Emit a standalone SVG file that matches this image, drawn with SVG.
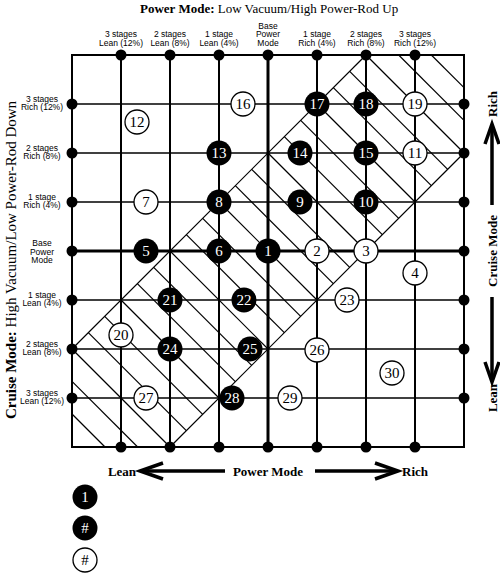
<svg xmlns="http://www.w3.org/2000/svg" width="500" height="573" viewBox="0 0 500 573">
<style>
.gv{stroke:#000;stroke-width:2;fill:none}
.gh{stroke:#000;stroke-width:1.5;fill:none}
.base{stroke:#000;stroke-width:3;fill:none}
.ht{stroke:#000;stroke-width:1.2;fill:none}
.dot{fill:#000}
.nb circle{fill:#000}
.nb text{fill:#fff}
.nw circle{fill:#fff;stroke:#000;stroke-width:1.3}
.nw text{fill:#000}
.num{font-family:"Liberation Serif","Times New Roman",serif;font-size:15px;text-anchor:middle}
.lbl{font-family:"Liberation Sans Narrow","Liberation Sans",Arial,sans-serif;font-size:8.5px;text-anchor:middle;fill:#000}
.big{font-family:"Liberation Serif","Times New Roman",serif;font-size:13px;font-weight:bold;fill:#000}
.arr{stroke:#000;stroke-width:3.5;fill:none;stroke-linejoin:miter}
</style>
<rect x="0" y="0" width="500" height="573" fill="#fff"/>

<text x="140" y="13" font-family="Liberation Serif, Times New Roman, serif" font-size="13"><tspan font-weight="bold">Power Mode:</tspan> Low Vacuum/High Power-Rod Up</text>

<g id="hatch">
<line class="ht" x1="366" y1="55" x2="72" y2="349"/>
<line class="ht" x1="464" y1="153" x2="170" y2="447"/>
<line class="ht" x1="431.33" y1="55" x2="464" y2="87.67"/>
<line class="ht" x1="398.67" y1="55" x2="464" y2="120.33"/>
<line class="ht" x1="366" y1="55" x2="464" y2="153"/>
<line class="ht" x1="349.67" y1="71.33" x2="447.67" y2="169.33"/>
<line class="ht" x1="333.33" y1="87.67" x2="431.33" y2="185.67"/>
<line class="ht" x1="317" y1="104" x2="415" y2="202"/>
<line class="ht" x1="300.67" y1="120.33" x2="398.67" y2="218.33"/>
<line class="ht" x1="284.33" y1="136.67" x2="382.33" y2="234.67"/>
<line class="ht" x1="268" y1="153" x2="366" y2="251"/>
<line class="ht" x1="251.67" y1="169.33" x2="349.67" y2="267.33"/>
<line class="ht" x1="235.33" y1="185.67" x2="333.33" y2="283.67"/>
<line class="ht" x1="219" y1="202" x2="317" y2="300"/>
<line class="ht" x1="202.67" y1="218.33" x2="300.67" y2="316.33"/>
<line class="ht" x1="186.33" y1="234.67" x2="284.33" y2="332.67"/>
<line class="ht" x1="170" y1="251" x2="268" y2="349"/>
<line class="ht" x1="153.67" y1="267.33" x2="251.67" y2="365.33"/>
<line class="ht" x1="137.33" y1="283.67" x2="235.33" y2="381.67"/>
<line class="ht" x1="121" y1="300" x2="219" y2="398"/>
<line class="ht" x1="104.67" y1="316.33" x2="202.67" y2="414.33"/>
<line class="ht" x1="88.33" y1="332.67" x2="186.33" y2="430.67"/>
<line class="ht" x1="72" y1="349" x2="170" y2="447"/>
<line class="ht" x1="72" y1="381.33" x2="137.67" y2="447"/>
<line class="ht" x1="72" y1="414" x2="105" y2="447"/>
</g>

<g id="grid">
<rect class="gv" x="72" y="55" width="392" height="392"/>
<line class="gv" x1="121" y1="55" x2="121" y2="447"/>
<line class="gv" x1="170" y1="55" x2="170" y2="447"/>
<line class="gv" x1="219" y1="55" x2="219" y2="447"/>
<line class="base" x1="268" y1="55" x2="268" y2="447"/>
<line class="gv" x1="317" y1="55" x2="317" y2="447"/>
<line class="gv" x1="366" y1="55" x2="366" y2="447"/>
<line class="gv" x1="415" y1="55" x2="415" y2="447"/>
<line class="gh" x1="72" y1="104" x2="464" y2="104"/>
<line class="gh" x1="72" y1="153" x2="464" y2="153"/>
<line class="gh" x1="72" y1="202" x2="464" y2="202"/>
<line class="base" x1="72" y1="251" x2="464" y2="251"/>
<line class="gh" x1="72" y1="300" x2="464" y2="300"/>
<line class="gh" x1="72" y1="349" x2="464" y2="349"/>
<line class="gh" x1="72" y1="398" x2="464" y2="398"/>
</g>

<g id="edge-dots" class="dot">
<circle cx="121" cy="55" r="5.5"/><circle cx="170" cy="55" r="5.5"/><circle cx="219" cy="55" r="5.5"/><circle cx="268" cy="55" r="5.5"/><circle cx="317" cy="55" r="5.5"/><circle cx="366" cy="55" r="5.5"/><circle cx="415" cy="55" r="5.5"/>
<circle cx="121" cy="447" r="5.5"/><circle cx="170" cy="447" r="5.5"/><circle cx="219" cy="447" r="5.5"/><circle cx="268" cy="447" r="5.5"/><circle cx="317" cy="447" r="5.5"/><circle cx="366" cy="447" r="5.5"/><circle cx="415" cy="447" r="5.5"/>
<circle cx="72" cy="104" r="5.5"/><circle cx="72" cy="153" r="5.5"/><circle cx="72" cy="202" r="5.5"/><circle cx="72" cy="251" r="5.5"/><circle cx="72" cy="300" r="5.5"/><circle cx="72" cy="349" r="5.5"/><circle cx="72" cy="398" r="5.5"/>
<circle cx="464" cy="104" r="5.5"/><circle cx="464" cy="153" r="5.5"/><circle cx="464" cy="202" r="5.5"/><circle cx="464" cy="251" r="5.5"/><circle cx="464" cy="300" r="5.5"/><circle cx="464" cy="349" r="5.5"/><circle cx="464" cy="398" r="5.5"/>
</g>

<g id="column-labels" class="lbl">
<text x="121" y="37">3 stages</text><text x="121" y="45.5">Lean (12%)</text>
<text x="170" y="37">2 stages</text><text x="170" y="45.5">Lean (8%)</text>
<text x="219" y="37">1 stage</text><text x="219" y="45.5">Lean (4%)</text>
<text x="268" y="28.5">Base</text><text x="268" y="37">Power</text><text x="268" y="45.5">Mode</text>
<text x="317" y="37">1 stage</text><text x="317" y="45.5">Rich (4%)</text>
<text x="366" y="37">2 stages</text><text x="366" y="45.5">Rich (8%)</text>
<text x="415" y="37">3 stages</text><text x="415" y="45.5">Rich (12%)</text>
</g>

<g id="row-labels" class="lbl">
<text x="42" y="101.5">3 stages</text><text x="42" y="110">Rich (12%)</text>
<text x="42" y="150.5">2 stages</text><text x="42" y="159">Rich (8%)</text>
<text x="42" y="199.5">1 stage</text><text x="42" y="208">Rich (4%)</text>
<text x="42" y="246">Base</text><text x="42" y="254.5">Power</text><text x="42" y="263">Mode</text>
<text x="42" y="297.5">1 stage</text><text x="42" y="306">Lean (4%)</text>
<text x="42" y="346.5">2 stages</text><text x="42" y="355">Lean (8%)</text>
<text x="42" y="395.5">3 stages</text><text x="42" y="404">Lean (12%)</text>
</g>

<text transform="translate(16,260) rotate(-90)" text-anchor="middle" font-family="Liberation Serif, Times New Roman, serif" font-size="15"><tspan font-weight="bold">Cruise Mode:</tspan> High Vacuum/Low Power-Rod Down</text>

<g id="cruise-axis">
<text class="big" transform="translate(497,104) rotate(-90)" text-anchor="middle">Rich</text>
<text class="big" transform="translate(497,251) rotate(-90)" text-anchor="middle">Cruise Mode</text>
<text class="big" transform="translate(497,398) rotate(-90)" text-anchor="middle">Lean</text>
<line class="arr" x1="492" y1="126" x2="492" y2="205"/>
<polyline class="arr" points="485,144 492,124 499,144"/>
<line class="arr" x1="492" y1="297" x2="492" y2="380"/>
<polyline class="arr" points="485,362 492,382 499,362"/>
</g>

<g id="power-axis">
<text class="big" x="122" y="476" text-anchor="middle">Lean</text>
<text class="big" x="268" y="476" text-anchor="middle">Power Mode</text>
<text class="big" x="415" y="476" text-anchor="middle">Rich</text>
<line class="arr" x1="142" y1="471" x2="225" y2="471"/>
<polyline class="arr" points="163,463 140,471 163,479"/>
<line class="arr" x1="315" y1="471" x2="396" y2="471"/>
<polyline class="arr" points="375,463 398,471 375,479"/>
</g>

<g id="n1" class="nb"><circle cx="268" cy="251" r="12.5"/><text class="num" x="268" y="256">1</text></g>
<g id="n2" class="nw"><circle cx="317" cy="251" r="12"/><text class="num" x="317" y="256">2</text></g>
<g id="n3" class="nw"><circle cx="366" cy="251" r="12"/><text class="num" x="366" y="256">3</text></g>
<g id="n4" class="nw"><circle cx="415" cy="273" r="12"/><text class="num" x="415" y="278">4</text></g>
<g id="n5" class="nb"><circle cx="146" cy="251" r="12.5"/><text class="num" x="146" y="256">5</text></g>
<g id="n6" class="nb"><circle cx="219" cy="251" r="12.5"/><text class="num" x="219" y="256">6</text></g>
<g id="n7" class="nw"><circle cx="146" cy="202" r="12"/><text class="num" x="146" y="207">7</text></g>
<g id="n8" class="nb"><circle cx="219" cy="202" r="12.5"/><text class="num" x="219" y="207">8</text></g>
<g id="n9" class="nb"><circle cx="300" cy="202" r="12.5"/><text class="num" x="300" y="207">9</text></g>
<g id="n10" class="nb"><circle cx="366" cy="202" r="12.5"/><text class="num" x="366" y="207">10</text></g>
<g id="n11" class="nw"><circle cx="415" cy="153" r="12"/><text class="num" x="415" y="158">11</text></g>
<g id="n12" class="nw"><circle cx="137" cy="122" r="12"/><text class="num" x="137" y="127">12</text></g>
<g id="n13" class="nb"><circle cx="219" cy="153" r="12.5"/><text class="num" x="219" y="158">13</text></g>
<g id="n14" class="nb"><circle cx="300" cy="153" r="12.5"/><text class="num" x="300" y="158">14</text></g>
<g id="n15" class="nb"><circle cx="366" cy="153" r="12.5"/><text class="num" x="366" y="158">15</text></g>
<g id="n16" class="nw"><circle cx="243" cy="104" r="12"/><text class="num" x="243" y="109">16</text></g>
<g id="n17" class="nb"><circle cx="317" cy="104" r="12.5"/><text class="num" x="317" y="109">17</text></g>
<g id="n18" class="nb"><circle cx="366" cy="104" r="12.5"/><text class="num" x="366" y="109">18</text></g>
<g id="n19" class="nw"><circle cx="415" cy="104" r="12"/><text class="num" x="415" y="109">19</text></g>
<g id="n20" class="nw"><circle cx="121" cy="335" r="12"/><text class="num" x="121" y="340">20</text></g>
<g id="n21" class="nb"><circle cx="170" cy="300" r="12.5"/><text class="num" x="170" y="305">21</text></g>
<g id="n22" class="nb"><circle cx="244" cy="300" r="12.5"/><text class="num" x="244" y="305">22</text></g>
<g id="n23" class="nw"><circle cx="347" cy="300" r="12"/><text class="num" x="347" y="305">23</text></g>
<g id="n24" class="nb"><circle cx="170" cy="349" r="12.5"/><text class="num" x="170" y="354">24</text></g>
<g id="n25" class="nb"><circle cx="250" cy="349" r="12.5"/><text class="num" x="250" y="354">25</text></g>
<g id="n26" class="nw"><circle cx="317" cy="350" r="12"/><text class="num" x="317" y="355">26</text></g>
<g id="n27" class="nw"><circle cx="146" cy="398" r="12"/><text class="num" x="146" y="403">27</text></g>
<g id="n28" class="nb"><circle cx="232" cy="398" r="12.5"/><text class="num" x="232" y="403">28</text></g>
<g id="n29" class="nw"><circle cx="290" cy="398" r="12"/><text class="num" x="290" y="403">29</text></g>
<g id="n30" class="nw"><circle cx="392" cy="373" r="12"/><text class="num" x="392" y="378">30</text></g>

<g id="legend-1" class="nb"><circle cx="85" cy="497" r="12.5"/><text class="num" x="85" y="502">1</text></g>
<g id="legend-black" class="nb"><circle cx="85" cy="528" r="12.5"/><text class="num" x="85" y="533">#</text></g>
<g id="legend-white" class="nw"><circle cx="85" cy="560" r="12"/><text class="num" x="85" y="565">#</text></g>
</svg>
